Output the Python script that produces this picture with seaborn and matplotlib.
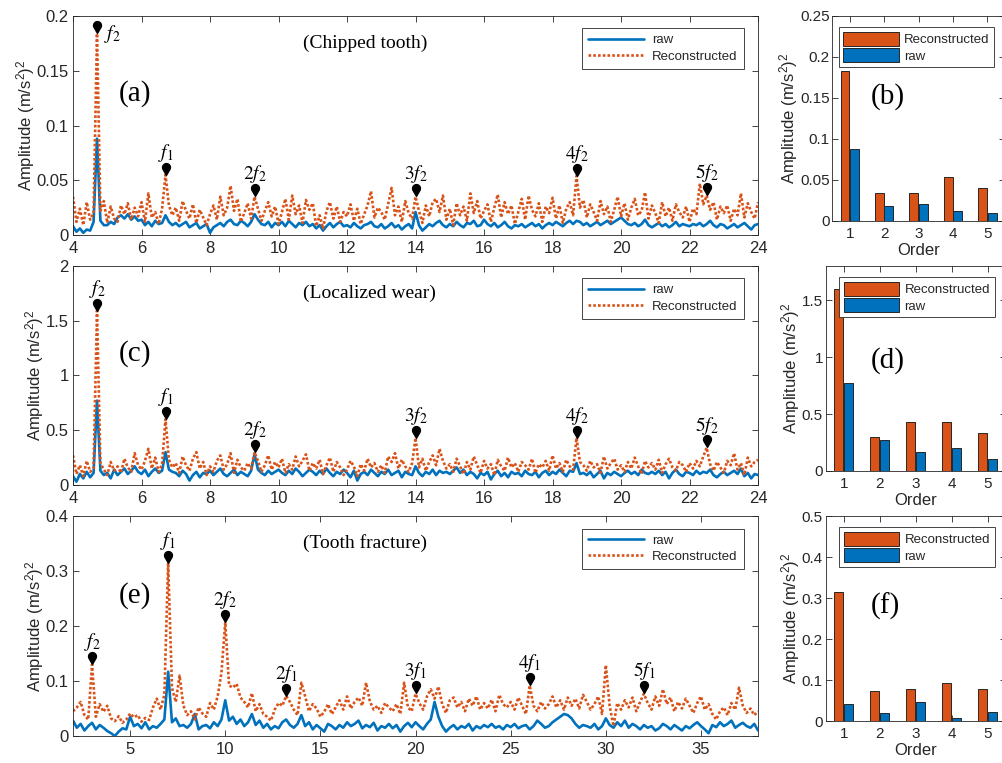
import numpy as np
import pandas as pd
import matplotlib
matplotlib.use("Agg")
import matplotlib.pyplot as plt
from matplotlib.path import Path
from matplotlib.patches import Patch
from matplotlib.ticker import FuncFormatter
from matplotlib.transforms import offset_copy
import seaborn as sns

# ---------------------------------------------------------------- spectra
# (a) chipped tooth, amplitudes in 1e-3 (m/s^2)^2, 4-24 Hz in 0.1 Hz steps
A_START, A_STEP, A_SCALE = 4.0, 0.1, 1e-3
recon_a = [
    35, 12, 24, 9, 30, 14, 20, 184, 22, 31,
    11, 26, 15, 12, 27, 19, 29, 14, 25, 17,
    30, 12, 38, 16, 21, 10, 24, 55, 27, 18,
    25, 13, 31, 22, 15, 28, 11, 23, 16, 9,
    19, 27, 14, 35, 18, 25, 45, 22, 33, 12,
    20, 29, 15, 35, 24, 13, 22, 30, 17, 26,
    10, 21, 33, 14, 36, 19, 27, 11, 32, 23,
    29, 8, 18, 6, 22, 30, 15, 26, 12, 21,
    17, 28, 13, 24, 10, 19, 27, 40, 16, 25,
    21, 14, 28, 43, 18, 26, 12, 31, 20, 15,
    35, 22, 11, 27, 17, 30, 33, 21, 36, 14,
    24, 9, 29, 18, 26, 13, 38, 20, 31, 15,
    22, 28, 12, 25, 37, 16, 30, 19, 27, 10,
    21, 33, 14, 36, 23, 17, 29, 12, 26, 20,
    34, 15, 27, 11, 24, 30, 18, 54, 25, 32,
    16, 28, 21, 13, 31, 19, 26, 12, 23, 35,
    17, 29, 14, 25, 33, 18, 22, 39, 15, 27,
    20, 11, 30, 17, 25, 13, 28, 21, 16, 26,
    12, 24, 19, 47, 28, 36, 23, 30, 14, 26,
    20, 27, 13, 24, 18, 38, 16, 29, 21, 15,
    30,
]
raw_a = [
    8, 3, 6, 2, 5, 4, 12, 88, 13, 9,
    9, 12, 10, 16, 18, 15, 19, 14, 17, 13,
    14, 9, 12, 8, 13, 10, 11, 18, 12, 9,
    11, 8, 10, 12, 7, 9, 11, 6, 8, 10,
    2, 7, 9, 11, 8, 12, 14, 10, 9, 13,
    11, 8, 12, 19, 14, 10, 9, 12, 7, 11,
    9, 12, 8, 13, 10, 7, 11, 9, 12, 8,
    10, 6, 9, 4, 8, 11, 7, 10, 12, 8,
    9, 7, 11, 8, 6, 9, 10, 12, 8, 7,
    10, 6, 8, 11, 7, 9, 5, 8, 10, 6,
    21, 9, 4, 7, 10, 8, 11, 13, 9, 7,
    10, 8, 12, 9, 7, 11, 10, 13, 8, 9,
    14, 10, 8, 11, 7, 9, 12, 8, 6, 9,
    8, 10, 7, 9, 11, 8, 10, 6, 9, 11,
    9, 12, 10, 8, 11, 13, 10, 13, 12, 9,
    11, 8, 10, 12, 9, 11, 13, 10, 12, 14,
    16, 13, 10, 9, 11, 8, 10, 14, 9, 7,
    9, 11, 8, 10, 7, 9, 12, 8, 10, 9,
    8, 10, 9, 11, 8, 10, 13, 9, 7, 10,
    9, 6, 8, 10, 7, 9, 11, 8, 5, 9,
    10,
]
harm_a = ["$f_2$", "$f_1$", "$2f_2$", "$3f_2$", "$4f_2$", "$5f_2$"]
harm_a_freq = [4.7, 6.7, 9.3, 14.0, 18.7, 22.5]

# (c) localized wear, amplitudes in 1e-2 (m/s^2)^2, 4-24 Hz in 0.1 Hz steps
C_START, C_STEP, C_SCALE = 4.0, 0.1, 1e-2
recon_c = [
    27, 10, 18, 8, 22, 12, 15, 159, 20, 14,
    9, 21, 13, 17, 11, 24, 16, 12, 29, 18,
    14, 22, 33, 15, 25, 12, 19, 60, 23, 16,
    20, 11, 26, 18, 13, 24, 30, 15, 21, 9,
    17, 12, 22, 27, 14, 19, 29, 11, 23, 16,
    13, 20, 15, 30, 22, 12, 18, 27, 14, 21,
    16, 24, 11, 19, 14, 26, 17, 22, 28, 13,
    20, 15, 23, 10, 18, 25, 12, 21, 16, 9,
    14, 22, 17, 8, 19, 13, 24, 16, 20, 12,
    18, 11, 26, 21, 29, 15, 23, 17, 12, 20,
    43, 16, 24, 13, 21, 27, 18, 33, 22, 15,
    19, 12, 24, 17, 10, 21, 14, 26, 18, 11,
    22, 15, 19, 9, 23, 17, 13, 25, 16, 20,
    12, 21, 18, 14, 24, 11, 19, 16, 22, 13,
    27, 15, 20, 12, 23, 17, 14, 43, 21, 18,
    13, 22, 16, 19, 11, 26, 15, 20, 24, 14,
    18, 12, 21, 15, 25, 17, 10, 22, 16, 20,
    14, 23, 11, 19, 24, 16, 13, 21, 18, 12,
    20, 15, 22, 17, 26, 34, 19, 13, 21, 16,
    11, 22, 18, 29, 14, 20, 9, 25, 17, 21,
    23,
]
raw_c = [
    8, 3, 10, 6, 12, 7, 11, 77, 13, 9,
    11, 6, 14, 9, 12, 15, 10, 13, 17, 12,
    10, 14, 8, 12, 15, 11, 13, 30, 14, 12,
    11, 8, 13, 10, 4, 9, 12, 7, 11, 10,
    13, 9, 12, 15, 10, 8, 11, 14, 9, 12,
    10, 8, 13, 28, 14, 11, 9, 13, 10, 12,
    14, 11, 9, 13, 10, 15, 12, 8, 11, 14,
    12, 9, 13, 10, 15, 11, 8, 12, 10, 14,
    11, 7, 13, 4, 10, 12, 9, 14, 11, 8,
    12, 10, 14, 9, 11, 13, 7, 12, 10, 9,
    17, 11, 8, 12, 10, 14, 9, 13, 11, 12,
    10, 13, 16, 11, 14, 9, 12, 10, 6, 11,
    9, 12, 5, 10, 13, 8, 11, 7, 12, 10,
    11, 8, 13, 10, 9, 12, 7, 11, 13, 9,
    12, 10, 14, 11, 8, 13, 12, 20, 10, 11,
    9, 12, 7, 10, 13, 6, 11, 9, 12, 10,
    8, 11, 13, 10, 12, 9, 14, 11, 10, 12,
    10, 13, 9, 12, 6, 11, 14, 10, 8, 12,
    11, 9, 13, 10, 12, 11, 14, 9, 7, 10,
    12, 9, 11, 13, 10, 15, 8, 11, 6, 10,
    9,
]
harm_c = ["$f_2$", "$f_1$", "$2f_2$", "$3f_2$", "$4f_2$", "$5f_2$"]
harm_c_freq = [4.7, 6.7, 9.3, 14.0, 18.7, 22.5]

# (e) tooth fracture, amplitudes in 1e-3 (m/s^2)^2, 2-38 Hz in 0.2 Hz steps
E_START, E_STEP, E_SCALE = 2.0, 0.2, 1e-3
recon_e = [
    45, 52, 62, 38, 30,   130, 35, 58, 44, 55,
    32, 27, 36, 24, 30,   41, 34, 38, 26, 33,
    29, 52, 68, 48, 75,   315, 88, 62, 110, 55,
    38, 45, 30, 52, 41,   35, 60, 48, 72, 115,
    207, 92, 88, 95, 70,  62, 52, 78, 45, 58,
    40, 35, 28, 48, 60,   55, 73, 62, 48, 38,
    97, 72, 45, 58, 50,   35, 44, 58, 40, 52,
    65, 48, 72, 50, 62,   70, 55, 97, 63, 48,
    55, 42, 60, 52, 45,   58, 40, 97, 52, 45,
    77, 60, 48, 72, 85,   68, 90, 58, 42, 65,
    70, 52, 62, 45, 68,   55, 72, 48, 60, 50,
    66, 45, 75, 58, 52,   62, 48, 70, 55, 40,
    92, 55, 45, 62, 50,   58, 72, 52, 65, 48,
    70, 55, 68, 50, 75,   62, 48, 58, 72, 40,
    129, 55, 18, 60, 48,  65, 52, 70, 45, 62,
    77, 60, 48, 72, 55,   85, 58, 70, 45, 62,
    50, 68, 55, 42, 60,   72, 48, 58, 40, 30,
    45, 52, 38, 60, 48,   88, 55, 42, 50, 38,
    45,
]
raw_e = [
    28, 15, 22, 10, 18,   24, 12, 20, 15, 9,
    5, 0, 8, 14, 12,      35, 18, 22, 14, 25,
    12, 18, 15, 22, 30,   117, 25, 32, 18, 20,
    15, 22, 40, 12, 18,   20, 14, 25, 18, 30,
    65, 28, 35, 22, 30,   18, 25, 40, 20, 28,
    15, 22, 12, 18, 14,   25, 30, 20, 15, 22,
    38, 18, 25, 12, 20,   14, 8, 22, 18, 12,
    20, 15, 25, 18, 22,   28, 14, 20, 16, 24,
    10, 18, 15, 22, 14,   20, 8, 18, 24, 16,
    25, 18, 12, 22, 30,   62, 35, 18, 8, 15,
    20, 12, 18, 15, 22,   10, 18, 14, 20, 16,
    22, 15, 18, 12, 20,   16, 22, 14, 18, 20,
    12, 18, 28, 22, 15,   18, 25, 30, 35, 40,
    38, 32, 22, 15, 20,   18, 15, 22, 12, 18,
    32, 20, 15, 25, 18,   28, 15, 22, 18, 12,
    20, 15, 18, 10, 14,   22, 18, 12, 20, 15,
    10, 18, 14, 20, 25,   18, 12, 5, 20, 16,
    25, 18, 22, 28, 15,   20, 24, 18, 15, 22,
    10,
]
harm_e = ["$f_2$", "$f_1$", "$2f_2$", "$2f_1$", "$3f_1$", "$4f_1$", "$5f_1$"]
harm_e_freq = [3.0, 7.0, 10.0, 13.2, 20.0, 26.0, 32.0]

# ---------------------------------------------------------------- order bars
orders = ["1", "2", "3", "4", "5"]
bar_b_recon = [0.183, 0.0345, 0.0345, 0.054, 0.0406]
bar_b_raw = [0.0878, 0.0187, 0.021, 0.0126, 0.0098]
bar_d_recon = [1.594, 0.296, 0.426, 0.431, 0.338]
bar_d_raw = [0.772, 0.276, 0.170, 0.203, 0.109]
bar_f_recon = [0.3155, 0.073, 0.077, 0.092, 0.077]
bar_f_raw = [0.042, 0.019, 0.046, 0.0065, 0.021]

# ---------------------------------------------------------------- style
BLUE = "#0072BD"
ORANGE = "#D95319"
INK = "#262626"
SERIF = ["Liberation Serif", "DejaVu Serif"]

sns.set_theme(style="ticks")
plt.rcParams.update({
    "font.family": ["Liberation Sans", "DejaVu Sans"],
    "mathtext.fontset": "stix",
    "axes.edgecolor": INK,
    "axes.linewidth": 0.6,
    "axes.labelcolor": INK,
    "axes.labelsize": 12,
    "xtick.color": INK,
    "ytick.color": INK,
    "xtick.labelcolor": INK,
    "ytick.labelcolor": INK,
    "xtick.direction": "in",
    "ytick.direction": "in",
    "xtick.major.size": 4,
    "ytick.major.size": 4,
    "xtick.major.width": 0.6,
    "ytick.major.width": 0.6,
    "xtick.major.pad": 4,
    "ytick.major.pad": 3,
})

YLABEL = r"Amplitude (m/s$\mathregular{^2}$)$\mathregular{^2}$"
fmt = FuncFormatter(lambda v, _: f"{v:g}")

# teardrop marker: a circle on top of a tip pointing down
_theta = np.radians(np.linspace(-30, 210, 40))
_verts = np.column_stack([0.5 * np.cos(_theta), 0.25 + 0.5 * np.sin(_theta)])
_verts = np.vstack([_verts, [[0.0, -0.75]], _verts[:1]])
_codes = [Path.MOVETO] + [Path.LINETO] * (len(_verts) - 2) + [Path.CLOSEPOLY]
PIN = Path(_verts, _codes)

fig = plt.figure(figsize=(10.03, 7.63), dpi=100)


def spectrum_panel(rect, start, step, scale, raw, recon, xlim, xticks, ylim,
                   yticks, title, title_xy, letter, letter_xy, harm, harm_freq,
                   label_offsets):
    ax = fig.add_axes(rect)
    freq = start + step * np.arange(len(recon))
    raw_v = np.asarray(raw, float) * scale
    recon_v = np.asarray(recon, float) * scale
    sns.lineplot(x=freq, y=raw_v, ax=ax, color=BLUE, linewidth=1.9,
                 label="raw", sort=False, errorbar=None)
    sns.lineplot(x=freq, y=recon_v, ax=ax, color=ORANGE, linewidth=1.9,
                 linestyle=(0, (1.0, 0.8)), label="Reconstructed",
                 sort=False, errorbar=None)
    ax.set_xlim(*xlim)
    ax.set_ylim(*ylim)
    ax.set_xticks(xticks)
    ax.set_yticks(yticks)
    ax.yaxis.set_major_formatter(fmt)
    ax.xaxis.set_major_formatter(fmt)
    ax.tick_params(top=True, right=True, labelsize=12)
    ax.set_ylabel(YLABEL, labelpad=0)
    ax.set_xlabel("")

    pin_tr = offset_copy(ax.transData, fig=fig, x=0, y=4.5, units="points")
    for name, hf, (dx, dy) in zip(harm, harm_freq, label_offsets):
        i = int(np.argmin(np.abs(freq - hf)))
        ax.plot([freq[i]], [recon_v[i]], linestyle="none", marker=PIN,
                markersize=8.5, color="black", transform=pin_tr, zorder=5)
        ax.annotate(name, xy=(freq[i], recon_v[i]), xytext=(dx, dy),
                    textcoords="offset points", ha="center", va="center",
                    fontsize=14, color="black", zorder=6)

    ax.text(*title_xy, title, transform=ax.transAxes, ha="center",
            va="center", fontsize=14, family=SERIF, color="black")
    ax.text(*letter_xy, letter, transform=ax.transAxes, ha="center",
            va="center", fontsize=21, family=SERIF, color="black")

    handles, labels = ax.get_legend_handles_labels()
    leg = ax.legend(handles, labels, loc="upper right",
                    bbox_to_anchor=(0.979, 0.944), borderaxespad=0,
                    frameon=True, fancybox=False, framealpha=1,
                    edgecolor=INK, fontsize=9.5, handlelength=4.3,
                    borderpad=0.45, labelspacing=0.3, handletextpad=0.6)
    leg.get_frame().set_linewidth(0.6)
    return ax


def order_panel(rect, recon, raw, ylim, yticks, letter, letter_xy, legend_x):
    ax = fig.add_axes(rect)
    df = pd.DataFrame({
        "Order": orders * 2,
        "amp": list(recon) + list(raw),
        "signal": ["Reconstructed"] * len(orders) + ["raw"] * len(orders),
    })
    palette = {"Reconstructed": ORANGE, "raw": BLUE}
    sns.barplot(data=df, x="Order", y="amp", hue="signal",
                hue_order=["Reconstructed", "raw"], palette=palette,
                width=0.55, gap=0.06, saturation=1, edgecolor=INK,
                linewidth=0.7, errorbar=None, legend=False, ax=ax)
    ax.set_xlim(-0.5, 4.5)
    ax.set_ylim(*ylim)
    ax.set_yticks(yticks)
    ax.yaxis.set_major_formatter(fmt)
    ax.tick_params(top=True, right=True, labelsize=11)
    ax.tick_params(axis="y", pad=2)
    ax.set_xlabel("Order", labelpad=2)
    ax.set_ylabel(YLABEL, labelpad=0)
    ax.text(*letter_xy, letter, transform=ax.transAxes, ha="center",
            va="center", fontsize=21, family=SERIF, color="black")
    handles = [Patch(facecolor=palette[k], edgecolor=INK, linewidth=0.7)
               for k in ["Reconstructed", "raw"]]
    leg = ax.legend(handles, ["Reconstructed", "raw"], loc="upper left",
                    bbox_to_anchor=(legend_x, 0.945), borderaxespad=0,
                    frameon=True, fancybox=False, framealpha=1,
                    edgecolor=INK, fontsize=9.5, handlelength=4.2,
                    handleheight=1.25, borderpad=0.35, labelspacing=0.15,
                    handletextpad=0.4)
    leg.get_frame().set_linewidth(0.6)
    return ax


LEFT, WIDTH = 0.0728, 0.683
above = (0, 16)
spectrum_panel([LEFT, 0.692, WIDTH, 0.287], A_START, A_STEP, A_SCALE,
               raw_a, recon_a, (4, 24), np.arange(4, 25, 2), (0, 0.2),
               [0, 0.05, 0.1, 0.15, 0.2], "(Chipped tooth)", (0.426, 0.875),
               "(a)", (0.0905, 0.648), harm_a, harm_a_freq,
               [(11, 0)] + [above] * 5)
spectrum_panel([LEFT, 0.3644, WIDTH, 0.287], C_START, C_STEP, C_SCALE,
               raw_c, recon_c, (4, 24), np.arange(4, 25, 2), (0, 2),
               [0, 0.5, 1, 1.5, 2], "(Localized wear)", (0.432, 0.875),
               "(c)", (0.0905, 0.601), harm_c, harm_c_freq,
               [above] * 6)
spectrum_panel([LEFT, 0.0354, WIDTH, 0.288], E_START, E_STEP, E_SCALE,
               raw_e, recon_e, (2, 38), np.arange(5, 36, 5), (0, 0.4),
               [0, 0.1, 0.2, 0.3, 0.4], "(Tooth fracture)", (0.426, 0.876),
               "(e)", (0.0905, 0.641), harm_e, harm_e_freq,
               [above] * 7)

order_panel([0.830, 0.7104, 0.1716, 0.2687], bar_b_recon, bar_b_raw,
            (0, 0.25), [0, 0.05, 0.1, 0.15, 0.2, 0.25], "(b)", (0.32, 0.606),
            0.037)
order_panel([0.8232, 0.3827, 0.1796, 0.2687], bar_d_recon, bar_d_raw,
            (0, 1.8), [0, 0.5, 1, 1.5], "(d)", (0.344, 0.541), 0.075)
order_panel([0.8232, 0.0550, 0.1796, 0.2687], bar_f_recon, bar_f_raw,
            (0, 0.5), [0, 0.1, 0.2, 0.3, 0.4, 0.5], "(f)", (0.329, 0.558),
            0.075)

fig.savefig("out.png", dpi=100, facecolor="white")
